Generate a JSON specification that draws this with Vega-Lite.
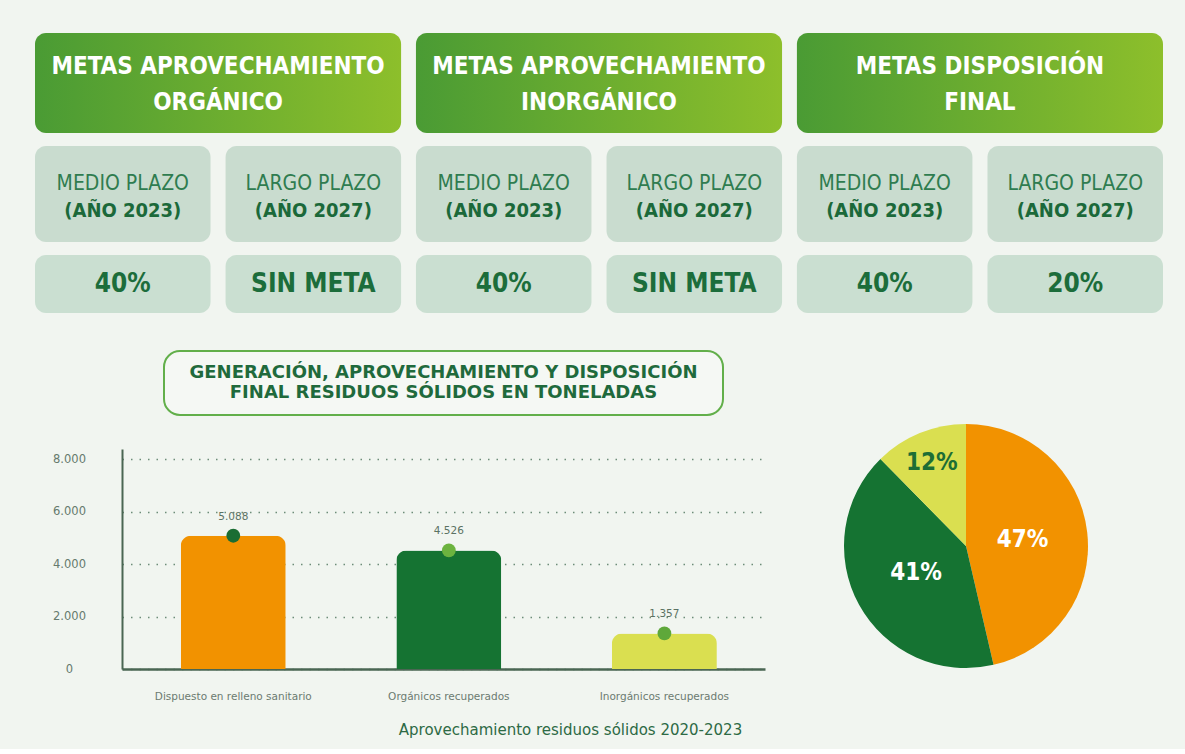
{
  "$schema": "https://vega.github.io/schema/vega-lite/v6.json",
  "background": "#f1f5f0",
  "padding": {"left": 35, "top": 33, "right": 22, "bottom": 8},
  "datasets": {
    "metas": [
      {"grupo": "Orgánico", "titulo": "METAS APROVECHAMIENTO\nORGÁNICO"},
      {"grupo": "Inorgánico", "titulo": "METAS APROVECHAMIENTO\nINORGÁNICO"},
      {"grupo": "Disposición final", "titulo": "METAS DISPOSICIÓN\nFINAL"}
    ],
    "plazos": [
      {"grupo": "Orgánico", "plazo": "MEDIO PLAZO", "anio": "(AÑO 2023)", "meta": "40%"},
      {"grupo": "Orgánico", "plazo": "LARGO PLAZO", "anio": "(AÑO 2027)", "meta": "SIN META"},
      {"grupo": "Inorgánico", "plazo": "MEDIO PLAZO", "anio": "(AÑO 2023)", "meta": "40%"},
      {"grupo": "Inorgánico", "plazo": "LARGO PLAZO", "anio": "(AÑO 2027)", "meta": "SIN META"},
      {"grupo": "Disposición final", "plazo": "MEDIO PLAZO", "anio": "(AÑO 2023)", "meta": "40%"},
      {"grupo": "Disposición final", "plazo": "LARGO PLAZO", "anio": "(AÑO 2027)", "meta": "20%"}
    ],
    "residuos": [
      {"categoria": "Dispuesto en relleno sanitario", "toneladas": 5088, "porcentaje": 0.47},
      {"categoria": "Orgánicos recuperados", "toneladas": 4526, "porcentaje": 0.41},
      {"categoria": "Inorgánicos recuperados", "toneladas": 1357, "porcentaje": 0.12}
    ]
  },
  "spacing": 37,
  "vconcat": [
    {
      "spacing": 13,
      "vconcat": [
        {
          "data": {"name": "metas"},
          "width": 1128,
          "height": 100,
          "encoding": {
            "x": {"field": "grupo", "type": "nominal", "sort": null, "axis": null,
                  "scale": {"paddingInner": 0.039, "paddingOuter": 0}}
          },
          "layer": [
            {
              "mark": {"type": "rect", "cornerRadius": 11,
                       "color": {"gradient": "linear", "x1": 0, "y1": 0, "x2": 1, "y2": 0,
                                 "stops": [{"offset": 0, "color": "#4a9b34"}, {"offset": 1, "color": "#8dbf2b"}]}}
            },
            {
              "mark": {"type": "text", "color": "#ffffff", "font": "DejaVu Sans Condensed",
                       "fontWeight": "bold", "fontSize": 24, "lineBreak": "\n", "lineHeight": 36, "baseline": "middle", "dy": -16},
              "encoding": {"text": {"field": "titulo"}}
            }
          ]
        },
        {
          "data": {"name": "plazos"},
          "width": 1128,
          "height": 96,
          "encoding": {
            "x": {"field": "grupo", "type": "nominal", "sort": null, "axis": null,
                  "scale": {"paddingInner": 0.039, "paddingOuter": 0}},
            "xOffset": {"field": "plazo", "type": "nominal", "sort": ["MEDIO PLAZO", "LARGO PLAZO"],
                        "scale": {"paddingInner": 0.079, "paddingOuter": 0}}
          },
          "layer": [
            {"mark": {"type": "rect", "cornerRadius": 11, "color": "#c9dccf"}},
            {
              "mark": {"type": "text", "color": "#2f7c50", "font": "DejaVu Sans Condensed",
                       "fontSize": 21, "dy": -10, "baseline": "middle"},
              "encoding": {"text": {"field": "plazo"}}
            },
            {
              "mark": {"type": "text", "color": "#1b693a", "font": "DejaVu Sans Condensed",
                       "fontWeight": "bold", "fontSize": 20, "dy": 17, "baseline": "middle"},
              "encoding": {"text": {"field": "anio"}}
            }
          ]
        },
        {
          "data": {"name": "plazos"},
          "width": 1128,
          "height": 58,
          "encoding": {
            "x": {"field": "grupo", "type": "nominal", "sort": null, "axis": null,
                  "scale": {"paddingInner": 0.039, "paddingOuter": 0}},
            "xOffset": {"field": "plazo", "type": "nominal", "sort": ["MEDIO PLAZO", "LARGO PLAZO"],
                        "scale": {"paddingInner": 0.079, "paddingOuter": 0}}
          },
          "layer": [
            {"mark": {"type": "rect", "cornerRadius": 11, "color": "#cadfd1"}},
            {
              "mark": {"type": "text", "color": "#1c6d3b", "font": "DejaVu Sans Condensed",
                       "fontWeight": "bold", "fontSize": 26, "baseline": "middle"},
              "encoding": {"text": {"field": "meta"}}
            }
          ]
        }
      ]
    },
    {
      "spacing": 79,
      "hconcat": [
        {
          "spacing": 0,
          "hconcat": [
            {
              "width": 1,
              "height": 1,
              "data": {"values": [{}]},
              "mark": {"type": "rect", "opacity": 0}
            },
            {
              "spacing": 34,
              "center": true,
              "bounds": "flush",
              "vconcat": [
                {
                  "width": 559,
                  "height": 64,
                  "view": {"stroke": "#62af4a", "strokeWidth": 2, "cornerRadius": 16, "fill": "#f5f8f4"},
                  "data": {"values": [{"titulo": "GENERACIÓN, APROVECHAMIENTO Y DISPOSICIÓN\nFINAL RESIDUOS SÓLIDOS EN TONELADAS"}]},
                  "mark": {"type": "text", "font": "DejaVu Sans", "fontWeight": "bold", "fontSize": 18,
                           "color": "#1f6a3c", "lineBreak": "\n", "lineHeight": 20, "baseline": "middle", "dy": -10},
                  "encoding": {"text": {"field": "titulo"}}
                },
                {
                  "data": {"name": "residuos"},
                  "width": 643,
                  "height": 220,
                  "encoding": {
                    "x": {"field": "categoria", "type": "nominal", "sort": null,
                          "scale": {"paddingInner": 0.513, "paddingOuter": 0.248, "align": 0.55},
                          "axis": {"title": "Aprovechamiento residuos sólidos 2020-2023", "titleX": 448, "titleY": 60,
                                   "titleBaseline": "middle", "titleFont": "DejaVu Sans", "titleFontSize": 15,
                                   "titleFontWeight": "normal", "titleColor": "#2d6a45",
                                   "domain": true, "domainColor": "#4a6653", "domainWidth": 2.5, "ticks": false,
                                   "labelAngle": 0, "labelPadding": 22, "labelFont": "DejaVu Sans", "labelFontSize": 10.5,
                                   "labelColor": "#6c7b70"}},
                    "y": {"field": "toneladas", "type": "quantitative",
                          "scale": {"domain": [0, 8400], "nice": false},
                          "axis": {"title": null, "values": [0, 2000, 4000, 6000, 8000], "format": ",.0f",
                                   "grid": true, "gridDash": [1.5, 7], "gridColor": "#6d8d78", "gridWidth": 1.4,
                                   "domain": true, "domainColor": "#4a6653", "domainWidth": 2, "ticks": false,
                                   "labelAlign": "center", "labelPadding": 53, "labelFont": "DejaVu Sans",
                                   "labelFontSize": 11.5, "labelColor": "#667a6d", "minExtent": 86}}
                  },
                  "layer": [
                    {
                      "mark": {"type": "bar", "cornerRadiusTopLeft": 10, "cornerRadiusTopRight": 10},
                      "encoding": {
                        "color": {"field": "categoria", "type": "nominal", "sort": null, "legend": null,
                                  "scale": {"domain": ["Dispuesto en relleno sanitario", "Orgánicos recuperados", "Inorgánicos recuperados"],
                                            "range": ["#f29200", "#157332", "#dadf50"]}}
                      }
                    },
                    {
                      "mark": {"type": "circle", "size": 190, "opacity": 1},
                      "encoding": {
                        "color": {"field": "categoria", "type": "nominal", "sort": null, "legend": null,
                                  "scale": {"domain": ["Dispuesto en relleno sanitario", "Orgánicos recuperados", "Inorgánicos recuperados"],
                                            "range": ["#1a6d33", "#6cb33f", "#5fa83a"]}}
                      }
                    },
                    {
                      "mark": {"type": "text", "dy": -19, "font": "DejaVu Sans", "fontSize": 10.5, "color": "#5b7263"},
                      "encoding": {"text": {"field": "toneladas", "type": "quantitative", "format": ",.0f"}}
                    }
                  ],
                  "resolve": {"scale": {"color": "independent"}}
                }
              ]
            }
          ]
        },
        {
          "data": {"name": "residuos"},
          "width": 244,
          "height": 390,
          "encoding": {
            "theta": {"field": "toneladas", "type": "quantitative", "stack": true},
            "order": {"field": "porcentaje", "type": "quantitative", "sort": "descending"}
          },
          "layer": [
            {
              "mark": {"type": "arc"},
              "encoding": {
                "color": {"field": "categoria", "type": "nominal", "sort": null, "legend": null,
                          "scale": {"domain": ["Dispuesto en relleno sanitario", "Orgánicos recuperados", "Inorgánicos recuperados"],
                                    "range": ["#f29200", "#157332", "#dadf50"]}}
              }
            },
            {
              "mark": {"type": "text", "font": "DejaVu Sans Condensed", "radius": 57,
                       "fontWeight": "bold", "fontSize": 24, "baseline": "middle", "color": "#ffffff"},
              "encoding": {
                "text": {"field": "porcentaje", "type": "quantitative", "format": ".0%",
                         "condition": {"test": "datum.porcentaje < 0.2", "value": ""}}
              }
            },
            {
              "mark": {"type": "text", "font": "DejaVu Sans Condensed", "radius": 90,
                       "fontWeight": "bold", "fontSize": 24, "baseline": "middle", "color": "#1d6e35"},
              "encoding": {
                "text": {"field": "porcentaje", "type": "quantitative", "format": ".0%",
                         "condition": {"test": "datum.porcentaje >= 0.2", "value": ""}}
              }
            }
          ]
        }
      ]
    }
  ],
  "config": {
    "view": {"stroke": null},
    "locale": {"number": {"decimal": ",", "thousands": ".", "grouping": [3], "currency": ["$", ""]}}
  }
}
